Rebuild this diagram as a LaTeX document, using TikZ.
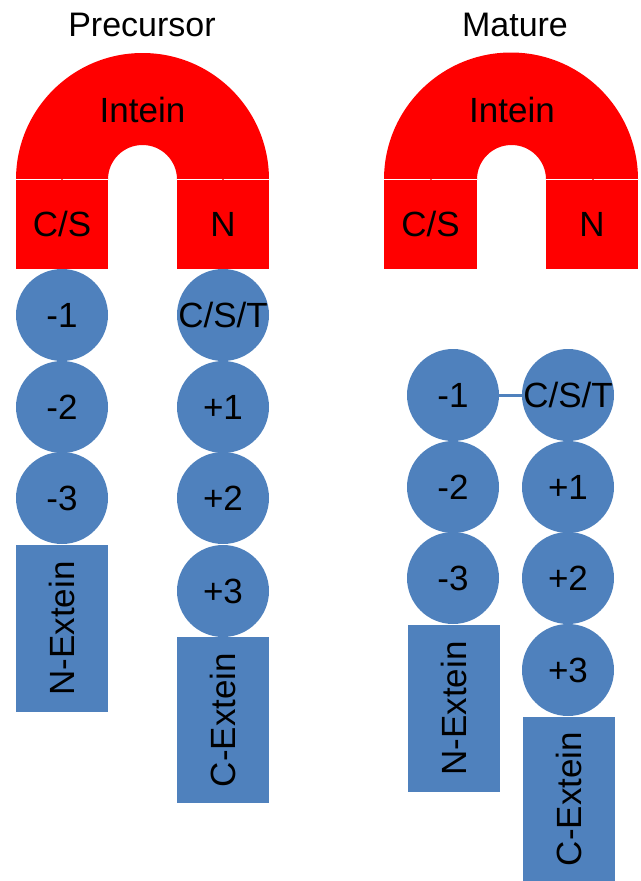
\documentclass[tikz,border=0pt]{standalone}
\usepackage{fontspec}
\setmainfont{Liberation Sans}
\definecolor{intred}{RGB}{255,0,0}
\definecolor{resblue}{RGB}{79,129,189}
\tikzset{
  lbl/.style={font=\fontsize{35}{40}\selectfont, text height=25pt, text depth=0pt},
  ttl/.style={font=\fontsize{34}{40}\selectfont, anchor=base, inner sep=0pt},
  res/.style={circle, fill=resblue, minimum size=92pt, inner sep=-3pt, lbl},
  ext/.style={rectangle, fill=resblue, inner sep=0pt, minimum height=92pt, rotate=90, lbl},
  seg/.style={rectangle, fill=intred, minimum width=92pt, minimum height=89pt, inner sep=0pt, lbl},
  seam/.style={draw=white, line width=1.4pt},
  bond/.style={draw=resblue, line width=3pt}
}
\begin{document}
\begin{tikzpicture}[x=1pt,y=1pt]
\useasboundingbox (0,0) rectangle (640,-881);

% ---------- Precursor ----------
\node[ttl] (ptitle) at (142,-36.7) {Precursor};
\fill[intred] (16,-179.5) arc[start angle=180,end angle=0,radius=126.5pt]
  -- (177,-179.5) arc[start angle=0,end angle=180,radius=34.5pt] -- cycle;
\node[lbl, inner sep=0pt] (pintein) at (142.5,-110) {Intein};
\node[seg] (pcs) at (62,-224) {C/S};
\node[seg] (pn)  at (223,-224) {N};
\draw[seam] (16,-179.5) -- (61,-179.5) (63,-179.5) -- (108,-179.5);
\draw[seam] (177,-179.5) -- (222,-179.5) (224,-179.5) -- (269,-179.5);

\node[res] (pm1) at (62,-315) {-1};
\node[res] (pm2) at (62,-407) {-2};
\node[res] (pm3) at (62,-498) {-3};
\node[ext, minimum width=167pt] (pnext) at (62,-628.5) {N-Extein};

\node[res] (pcst) at (223,-315) {C/S/T};
\node[res] (pp1)  at (223,-407) {+1};
\node[res] (pp2)  at (223,-498) {+2};
\node[res] (pp3)  at (223,-591) {+3};
\node[ext, minimum width=166pt] (pcext) at (223,-720) {C-Extein};

% ---------- Mature ----------
\node[ttl] (mtitle) at (515,-36.7) {Mature};
\fill[intred] (384,-179.5) arc[start angle=180,end angle=0,radius=127pt]
  -- (546,-179.5) arc[start angle=0,end angle=180,radius=34.5pt] -- cycle;
\node[lbl, inner sep=0pt] (mintein) at (512,-110) {Intein};
\node[seg, minimum width=93pt] (mcs) at (430.5,-224) {C/S};
\node[seg] (mn)  at (592,-224) {N};
\draw[seam] (384,-179.5) -- (430,-179.5) (432,-179.5) -- (477,-179.5);
\draw[seam] (546,-179.5) -- (592,-179.5) (594,-179.5) -- (638,-179.5);

\node[res] (mm1) at (453,-395) {-1};
\node[res] (mm2) at (453,-487) {-2};
\node[res] (mm3) at (453,-578) {-3};
\node[ext, minimum width=167pt] (mnext) at (453.5,-708.5) {N-Extein};

\node[res] (mcst) at (568,-395) {C/S/T};
\node[res] (mp1)  at (568,-487) {+1};
\node[res] (mp2)  at (568,-578) {+2};
\node[res] (mp3)  at (568,-670) {+3};
\node[ext, minimum width=165pt] (mcext) at (569,-799) {C-Extein};

% peptide bond formed by splicing
\draw[bond] (mm1.east) -- (mcst.west);
\end{tikzpicture}
\end{document}
